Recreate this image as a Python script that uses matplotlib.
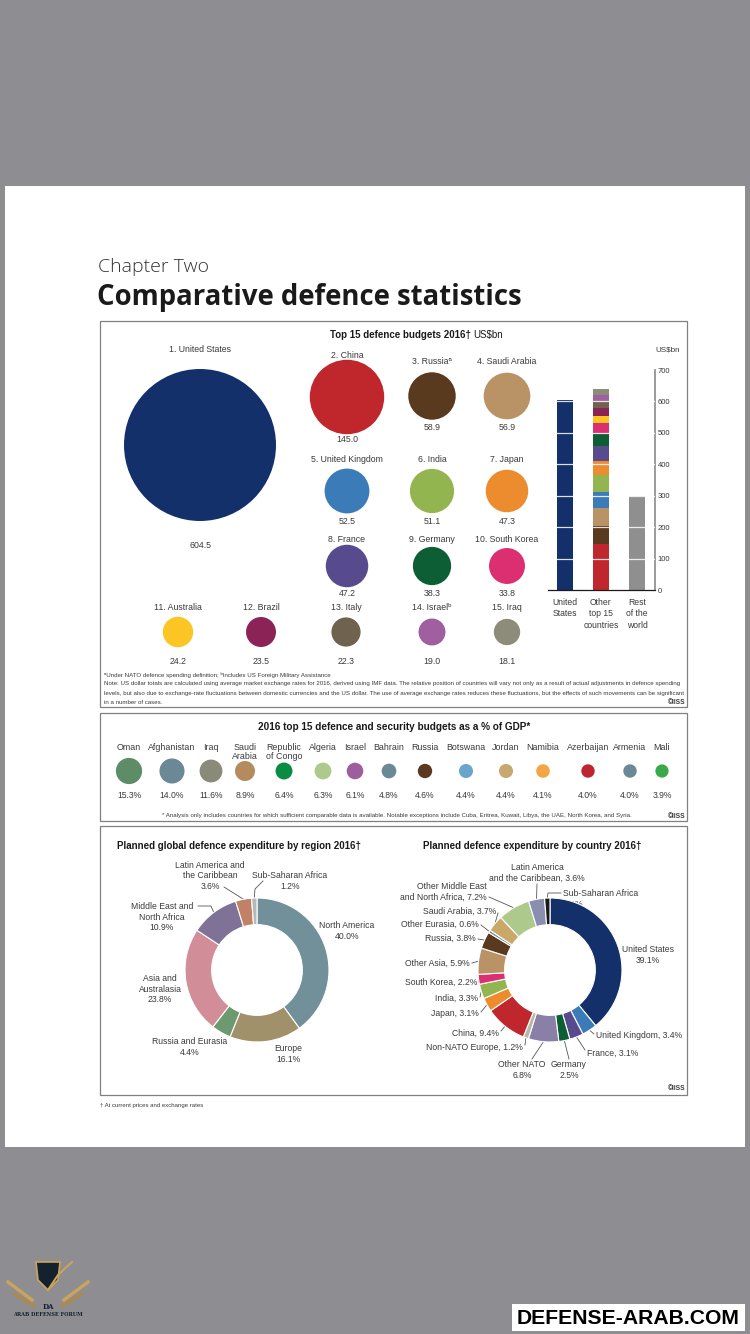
import numpy as np
import matplotlib
matplotlib.use('Agg')
import matplotlib.pyplot as plt
from matplotlib.patches import Circle, Rectangle, Polygon

W, H, DPI = 750, 1334, 100
plt.rcParams['font.family'] = ['Liberation Sans', 'DejaVu Sans']
TXT = '#3a3a3a'

# --- DATA ---
top15_names = ['1. United States', '2. China', '3. Russia\u1d43', '4. Saudi Arabia',
               '5. United Kingdom', '6. India', '7. Japan', '8. France', '9. Germany',
               '10. South Korea', '11. Australia', '12. Brazil', '13. Italy',
               '14. Israel\u1d47', '15. Iraq']
top15_values = [604.5, 145.0, 58.9, 56.9, 52.5, 51.1, 47.3, 47.2, 38.3, 33.8,
                24.2, 23.5, 22.3, 19.0, 18.1]
top15_colors = ['#13306a', '#c0272d', '#5a3a1e', '#b99366', '#3b7cb8', '#93b550',
                '#ec8c2f', '#574b8e', '#0e5e35', '#dc2f72', '#fbc623', '#8c2356',
                '#6f6350', '#a0609f', '#8d8c7a']

bar_labels = ['United\nStates', 'Other\ntop 15\ncountries', 'Rest\nof the\nworld']
rest_of_world = 298.0
bar_ticks = [0, 100, 200, 300, 400, 500, 600, 700]

gdp_names = ['Oman', 'Afghanistan', 'Iraq', 'Saudi\nArabia', 'Republic\nof Congo',
             'Algeria', 'Israel', 'Bahrain', 'Russia', 'Botswana', 'Jordan',
             'Namibia', 'Azerbaijan', 'Armenia', 'Mali']
gdp_values = [15.3, 14.0, 11.6, 8.9, 6.4, 6.3, 6.1, 4.8, 4.6, 4.4, 4.4, 4.1, 4.0, 4.0, 3.9]
gdp_colors = ['#5e8c66', '#6b8896', '#8a8a78', '#b38b5e', '#0b8c43', '#aec98c',
              '#9c5e9c', '#6b8896', '#5a3a1e', '#6aa6cc', '#c8a870', '#f2a644',
              '#be2530', '#6b8896', '#3aa94a']

region_names = ['North America', 'Europe', 'Russia and Eurasia', 'Asia and Australasia',
                'Middle East and North Africa', 'Latin America and the Caribbean',
                'Sub-Saharan Africa']
region_values = [40.0, 16.1, 4.4, 23.8, 10.9, 3.6, 1.2]
region_colors = ['#71909a', '#a0916b', '#6c9a6e', '#d18e98', '#7e7397', '#c08166', '#b8b8b8']

country_names = ['United States', 'United Kingdom', 'France', 'Germany', 'Other NATO',
                 'Non-NATO Europe', 'China', 'Japan', 'India', 'South Korea',
                 'Other Asia', 'Russia', 'Other Eurasia', 'Saudi Arabia',
                 'Other Middle East and North Africa', 'Latin America and the Caribbean',
                 'Sub-Saharan Africa']
country_values = [39.1, 3.4, 3.1, 2.5, 6.8, 1.2, 9.4, 3.1, 3.3, 2.2, 5.9, 3.8, 0.6,
                  3.7, 7.2, 3.6, 1.2]
country_colors = ['#13306a', '#3b7cb8', '#574b8e', '#0e5e35', '#8a7fa6', '#b8b8a8',
                  '#c0272d', '#ec8c2f', '#93b550', '#dc2f72', '#b99366', '#5a3a1e',
                  '#6e8c9c', '#c9a86a', '#aec98c', '#8a8fb0', '#1a1a1a']

# --- LAYOUT (pixel positions, y down) ---
# bubble slots: cx, cy, label y, value y
bubble_slots = [(200, 445, 350, 546), (347, 397, 355, 439), (432, 396, 361, 427),
                (507, 396, 361, 427), (347, 491, 459, 521), (432, 491, 459, 521),
                (507, 491, 459, 521), (347, 566, 540, 593), (432, 566, 540, 593),
                (507, 566, 540, 593), (178, 632, 607, 661), (261, 632, 607, 661),
                (346, 632, 607, 661), (432, 632, 607, 661), (507, 632, 607, 661)]
BUBBLE_K = 76.0 / np.sqrt(604.5)
gdp_x = [129, 172, 211, 245, 284, 323, 355, 389, 425, 466, 506, 543, 588, 630, 662]
GDP_K = 3.35

fig = plt.figure(figsize=(W / DPI, H / DPI), dpi=DPI, facecolor='#8e8d92')


def px_axes(x0, y0, x1, y1):
    return fig.add_axes([x0 / W, 1 - y1 / H, (x1 - x0) / W, (y1 - y0) / H])


page = fig.add_axes([0, 0, 1, 1])
page.set_xlim(0, W); page.set_ylim(H, 0); page.axis('off')
page.add_patch(Rectangle((5, 186), 740, 961, facecolor='white', edgecolor='none'))

page.text(98, 267, 'Chapter Two', fontsize=14, family=['Open Sans', 'DejaVu Sans'],
          weight='light', color='#333333', va='center')
page.text(97, 297, 'Comparative defence statistics', fontsize=19.8,
          family=['Open Sans', 'DejaVu Sans'], weight='bold', color='#1a1a1a', va='center')

for (y0, y1) in [(321, 707), (713, 821), (826, 1095)]:
    page.add_patch(Rectangle((100, y0), 587, y1 - y0, facecolor='none',
                             edgecolor='#808080', lw=0.9))

# --- panel 1: bubbles ---
page.text(471, 335, 'Top 15 defence budgets 2016\u2020', fontsize=7.0, weight='bold',
          color='#1a1a1a', ha='right', va='center')
page.text(473, 335, r'US\$bn', fontsize=7.0, color='#1a1a1a', ha='left', va='center')
for name, v, col, (cx, cy, ly, vy) in zip(top15_names, top15_values, top15_colors, bubble_slots):
    page.add_patch(Circle((cx, cy), BUBBLE_K * np.sqrt(v), facecolor=col, edgecolor='none'))
    page.text(cx, ly, name, fontsize=6.3, color=TXT, ha='center', va='center')
    page.text(cx, vy, f'{v:.1f}', fontsize=6.3, color=TXT, ha='center', va='center')

# stacked bars
bx = px_axes(548, 370, 655, 590)
bx.patch.set_visible(False)
bx.bar(0, top15_values[0], width=0.44, color=top15_colors[0], zorder=2)
bottom = 0.0
for v, col in zip(top15_values[1:], top15_colors[1:]):
    bx.bar(1, v, width=0.44, bottom=bottom, color=col, zorder=2)
    bottom += v
bx.bar(2, rest_of_world, width=0.44, color='#8f8f8f', zorder=2)
for t in bar_ticks[1:-1]:
    bx.axhline(t, color='white', lw=0.9, alpha=0.85, zorder=3)
bx.set_xlim(-0.472, 2.5)
bx.set_ylim(0, 700)
bx.yaxis.tick_right()
bx.set_yticks(bar_ticks)
bx.tick_params(axis='y', labelsize=5.5, colors=TXT, length=0, pad=2)
bx.set_xticks([0, 1, 2])
bx.set_xticklabels(bar_labels, fontsize=6.2, color=TXT, va='top', linespacing=1.3)
bx.tick_params(axis='x', length=0, pad=6)
for s in ['top', 'left']:
    bx.spines[s].set_visible(False)
bx.spines['right'].set_color('#8a8a8a')
bx.spines['right'].set_linewidth(1.2)
bx.spines['bottom'].set_color('#1a1a1a')
bx.spines['bottom'].set_linewidth(0.9)
page.text(668, 350, r'US\$bn', fontsize=5.8, color=TXT, ha='center', va='center')

notes1 = [
    '\u1d43Under NATO defence spending definition; \u1d47Includes US Foreign Military Assistance',
    'Note: US dollar totals are calculated using average market exchange rates for 2016, derived using IMF data. '
    'The relative position of countries will vary not only as a result of actual adjustments in defence spending',
    'levels, but also due to exchange-rate fluctuations between domestic currencies and the US dollar. '
    'The use of average exchange rates reduces these fluctuations, but the effects of such movements can be significant',
    'in a number of cases.']
for i, line in enumerate(notes1):
    page.text(104, 675 + i * 9, line, fontsize=4.4, color=TXT, va='center')
page.text(685, 702, '\u00a9IISS', fontsize=4.8, weight='bold', color=TXT, ha='right', va='center')

# --- panel 2: % of GDP ---
page.text(394, 727, '2016 top 15 defence and security budgets as a % of GDP*', fontsize=7.2,
          weight='bold', color='#1a1a1a', ha='center', va='center')
for name, v, col, x in zip(gdp_names, gdp_values, gdp_colors, gdp_x):
    page.add_patch(Circle((x, 771), GDP_K * np.sqrt(v), facecolor=col, edgecolor='none'))
    page.text(x, 743, name, fontsize=6.4, color=TXT, ha='center', va='top', linespacing=1.05)
    page.text(x, 796, f'{v:.1f}%', fontsize=6.2, color=TXT, ha='center', va='center')
page.text(397, 815, '* Analysis only includes countries for which sufficient comparable data is available. '
          'Notable exceptions include Cuba, Eritrea, Kuwait, Libya, the UAE, North Korea, and Syria.',
          fontsize=4.4, color=TXT, ha='center', va='center')
page.text(685, 816, '\u00a9IISS', fontsize=4.8, weight='bold', color=TXT, ha='right', va='center')

# --- panel 3: donuts ---
R_PX = 72.0


def donut(cx, cy, values, colors):
    ax = px_axes(cx - 1.1 * R_PX, cy - 1.1 * R_PX, cx + 1.1 * R_PX, cy + 1.1 * R_PX)
    ax.pie(values, colors=colors, startangle=90, counterclock=False, radius=1.0,
           wedgeprops=dict(width=0.37, edgecolor='white', linewidth=0.8))
    ax.set_xlim(-1.1, 1.1); ax.set_ylim(-1.1, 1.1)
    ax.set_aspect('equal'); ax.axis('off')
    cum = np.cumsum([0] + list(values))
    mids = 90 - 360 * (cum[:-1] + np.array(values) / 2) / cum[-1]
    return [(cx + R_PX * np.cos(np.radians(a)), cy - R_PX * np.sin(np.radians(a))) for a in mids]


def leader(pts):
    xs, ys = zip(*pts)
    page.plot(xs, ys, color='#555555', lw=0.6)


page.text(117, 846, 'Planned global defence expenditure by region 2016\u2020', fontsize=7.0,
          weight='bold', color='#1a1a1a', va='center')
lp = donut(257, 970, region_values, region_colors)
# text, x, y, ha, leader anchor points (before wedge point)
region_lbls = [
    ('North America\n40.0%', 347, 931, 'center', None),
    ('Europe\n16.1%', 288, 1054, 'center', None),
    ('Russia and Eurasia\n4.4%', 190, 1047, 'center', None),
    ('Asia and\nAustralasia\n23.8%', 160, 989, 'center', None),
    ('Middle East and\nNorth Africa\n10.9%', 162, 917, 'center', [(198, 906), (211, 906)]),
    ('Latin America and\nthe Caribbean\n3.6%', 210, 876, 'center', [(224, 887)]),
    ('Sub-Saharan Africa\n1.2%', 290, 881, 'center', [(263, 881), (255, 889)]),
]
for (t, x, y, ha, anc), wp in zip(region_lbls, lp):
    page.text(x, y, t, fontsize=6.2, color=TXT, ha=ha, va='center', linespacing=1.15)
    if anc:
        leader(anc + [wp])

page.text(423, 846, 'Planned defence expenditure by country 2016\u2020', fontsize=7.0,
          weight='bold', color='#1a1a1a', va='center')
rp = donut(550, 970, country_values, country_colors)
country_lbls = [
    ('United States\n39.1%', 648, 955, 'center', None),
    ('United Kingdom, 3.4%', 596, 1036, 'left', [(594, 1034)]),
    ('France, 3.1%', 587, 1053, 'left', [(585, 1050)]),
    ('Germany\n2.5%', 569, 1070, 'center', [(569, 1059)]),
    ('Other NATO\n6.8%', 522, 1070, 'center', [(532, 1059)]),
    ('Non-NATO Europe, 1.2%', 523, 1048, 'right', [(525, 1045)]),
    ('China, 9.4%', 499, 1033, 'right', [(501, 1031)]),
    ('Japan, 3.1%', 479, 1013, 'right', [(481, 1012)]),
    ('India, 3.3%', 478, 998, 'right', [(480, 997)]),
    ('South Korea, 2.2%', 477, 982, 'right', [(479, 982)]),
    ('Other Asia, 5.9%', 470, 963, 'right', [(472, 963)]),
    ('Russia, 3.8%', 476, 938, 'right', [(478, 939)]),
    ('Other Eurasia, 0.6%', 479, 924, 'right', [(481, 925)]),
    ('Saudi Arabia, 3.7%', 496, 911, 'right', [(498, 913)]),
    ('Other Middle East\nand North Africa, 7.2%', 487, 892, 'right', [(489, 897)]),
    ('Latin America\nand the Caribbean, 3.6%', 537, 873, 'center', [(537, 884)]),
    ('Sub-Saharan Africa\n1.2%', 563, 899, 'left', [(561, 893), (548, 893)]),
]
for (t, x, y, ha, anc), wp in zip(country_lbls, rp):
    page.text(x, y, t, fontsize=6.2, color=TXT, ha=ha, va='center', linespacing=1.15,
              multialignment='center' if ha == 'center' else ha)
    if anc:
        leader(anc + [wp])
page.text(685, 1089, '\u00a9IISS', fontsize=4.8, weight='bold', color=TXT, ha='right', va='center')
page.text(100, 1105, '\u2020 At current prices and exchange rates', fontsize=4.3, color=TXT, va='center')

# --- watermark ---
page.add_patch(Polygon([(36, 1262), (60, 1262), (58, 1280), (48, 1290), (38, 1280)],
                       closed=True, facecolor='#14212e', edgecolor='#c9a55a', lw=1.2))
page.plot([48, 58, 72], [1290, 1275, 1262], color='#c9a55a', lw=1.5)
for sgn in (-1, 1):
    page.plot([48 + sgn * 16, 48 + sgn * 40], [1300, 1282], color='#c9a55a', lw=2.5)
    page.plot([48 + sgn * 14, 48 + sgn * 34], [1306, 1294], color='#b08a45', lw=2.0)
page.text(48, 1307, 'DA', fontsize=5, weight='bold', color='#14212e', ha='center', va='center',
          family='DejaVu Serif')
page.text(48, 1315, 'ARAB DEFENSE FORUM', fontsize=3.6, weight='bold', color='#14212e',
          ha='center', va='center', family='DejaVu Serif')
page.add_patch(Rectangle((512, 1304), 233, 27, facecolor='white', edgecolor='none'))
page.text(628, 1318, 'DEFENSE-ARAB.COM', fontsize=15.2, weight='bold', color='black',
          ha='center', va='center')

fig.savefig('out.png', dpi=DPI, facecolor=fig.get_facecolor())
